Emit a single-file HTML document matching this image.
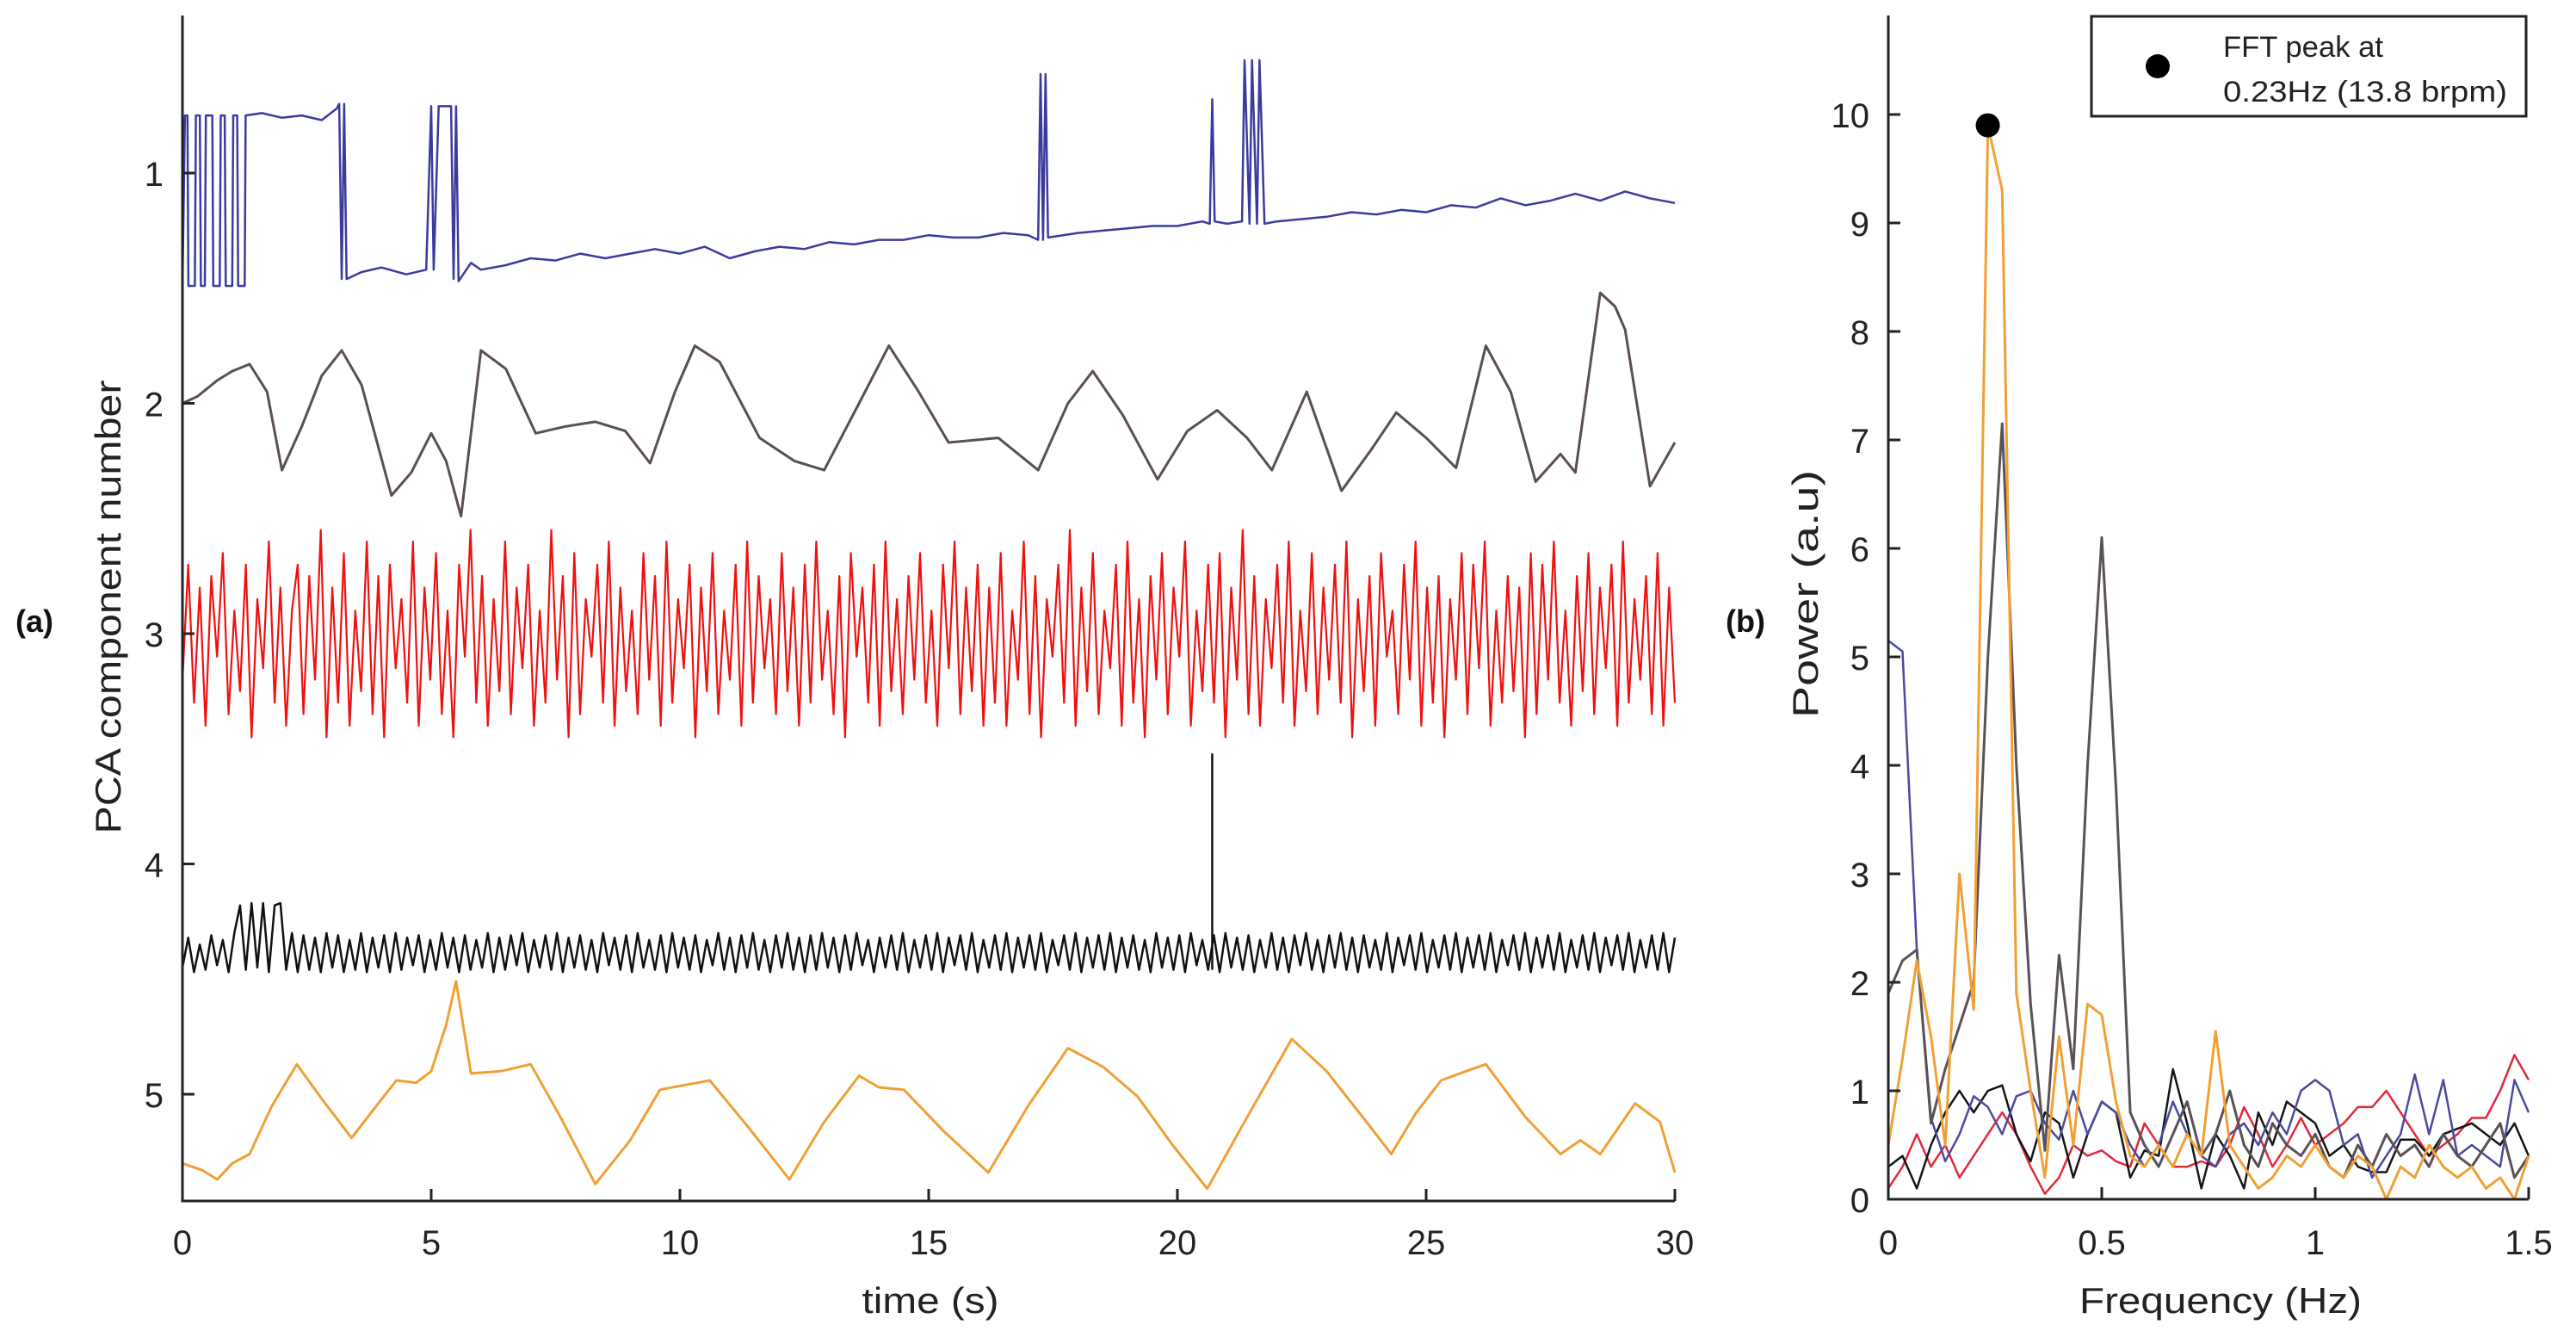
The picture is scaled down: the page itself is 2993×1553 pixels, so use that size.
<!DOCTYPE html>
<html><head><meta charset="utf-8"><style>
html,body{margin:0;padding:0;background:#fff;}
svg{display:block;font-family:"Liberation Sans",sans-serif;}
</style></head><body>
<svg id="fig" width="2993" height="1553" viewBox="0 0 2993 1553" xmlns="http://www.w3.org/2000/svg">
<g id="left"></g>
<g id="right"></g>
<text x="18" y="734" font-size="36" font-weight="bold" fill="#111">(a)</text>
<text x="2005" y="734" font-size="36" font-weight="bold" fill="#111">(b)</text>
<text transform="translate(140,705) rotate(-90)" text-anchor="middle" font-size="42" fill="#222" textLength="527" lengthAdjust="spacingAndGlyphs">PCA component number</text>
<text x="1081" y="1525" text-anchor="middle" font-size="42" fill="#222" textLength="159" lengthAdjust="spacingAndGlyphs">time (s)</text>
<text transform="translate(2112,690) rotate(-90)" text-anchor="middle" font-size="42" fill="#222" textLength="288" lengthAdjust="spacingAndGlyphs">Power (a.u)</text>
<text x="2580" y="1525" text-anchor="middle" font-size="42" fill="#222" textLength="328" lengthAdjust="spacingAndGlyphs">Frequency (Hz)</text>
<g>
<rect x="2430" y="19" width="505" height="116" fill="#fff" stroke="#222" stroke-width="3"/>
<circle cx="2507" cy="77" r="14" fill="#000"/>
<text x="2583" y="66" font-size="34" fill="#222" textLength="186" lengthAdjust="spacingAndGlyphs">FFT peak at</text>
<text x="2583" y="118" font-size="34" fill="#222" textLength="330" lengthAdjust="spacingAndGlyphs">0.23Hz (13.8 brpm)</text>
</g>
</svg>
<script>
// ---- left chart data ----
const timeTicks = [0,5,10,15,20,25,30];
const compTicks = [1,2,3,4,5];
const blueT = [0,0.05,0.1,0.12,0.25,0.27,0.35,0.37,0.45,0.47,0.6,0.62,0.75,0.77,0.85,0.87,1.0,1.02,1.1,1.12,1.25,1.27,1.6,2.0,2.4,2.8,3.1,3.15,3.2,3.25,3.3,3.6,4.0,4.5,4.9,5.0,5.05,5.15,5.4,5.45,5.5,5.55,5.8,6.0,6.5,7.0,7.5,8.0,8.5,9.0,9.5,10.0,10.5,11.0,11.5,12.0,12.5,13.0,13.5,14.0,14.5,15.0,15.5,16.0,16.5,17.0,17.2,17.25,17.3,17.35,17.4,18.0,18.5,19.0,19.5,20.0,20.5,20.65,20.7,20.75,21.0,21.3,21.35,21.45,21.5,21.6,21.65,21.75,22.0,22.5,23.0,23.5,24.0,24.5,25.0,25.5,26.0,26.5,27.0,27.5,28.0,28.5,29.0,29.5,30.0];
const blueV = [1.49,0.75,0.75,1.49,1.49,0.75,0.75,1.49,1.49,0.75,0.75,1.49,1.49,0.75,0.75,1.49,1.49,0.75,0.75,1.49,1.49,0.75,0.74,0.76,0.75,0.77,0.72,0.70,1.46,0.70,1.46,1.43,1.41,1.44,1.42,0.71,1.42,0.71,0.71,1.46,0.71,1.47,1.39,1.42,1.40,1.37,1.38,1.35,1.37,1.35,1.33,1.35,1.32,1.37,1.34,1.32,1.33,1.30,1.31,1.29,1.29,1.27,1.28,1.28,1.26,1.27,1.29,0.57,1.29,0.57,1.28,1.26,1.25,1.24,1.23,1.23,1.21,1.22,0.68,1.21,1.22,1.21,0.51,1.22,0.51,1.22,0.51,1.22,1.21,1.20,1.19,1.17,1.18,1.16,1.17,1.14,1.15,1.11,1.14,1.12,1.09,1.12,1.08,1.11,1.13];
const greyT = [0,0.3,0.7,1.0,1.35,1.7,2.0,2.4,2.8,3.2,3.6,4.2,4.6,5.0,5.3,5.6,6.0,6.5,7.1,7.7,8.3,8.9,9.4,9.9,10.3,10.8,11.6,12.3,12.9,13.6,14.2,14.8,15.4,16.4,17.2,17.8,18.3,18.9,19.6,20.2,20.8,21.4,21.9,22.6,23.3,23.9,24.4,25.0,25.6,26.2,26.7,27.2,27.7,28.0,28.5,28.8,29.0,29.5,30.0];
const greyV = [2.00,1.97,1.90,1.86,1.83,1.95,2.29,2.10,1.88,1.77,1.92,2.40,2.30,2.13,2.25,2.49,1.77,1.85,2.13,2.10,2.08,2.12,2.26,1.95,1.75,1.82,2.15,2.25,2.29,2.00,1.75,1.95,2.17,2.15,2.29,2.00,1.86,2.05,2.33,2.12,2.03,2.15,2.29,1.95,2.38,2.20,2.04,2.15,2.28,1.75,1.95,2.34,2.22,2.30,1.52,1.58,1.68,2.36,2.17];
const redV = [3.2,2.7,3.3,2.8,3.4,2.75,3.1,2.65,3.35,2.9,3.25,2.7,3.45,2.85,3.15,2.6,3.3,2.8,3.4,2.9,
2.7,3.35,2.75,3.2,2.55,3.45,2.8,3.3,2.65,3.4,2.9,3.25,2.6,3.35,2.75,3.45,2.7,3.15,2.85,3.3,
2.6,3.4,2.8,3.2,2.65,3.35,2.9,3.45,2.7,3.1,2.55,3.3,2.75,3.4,2.85,3.25,2.6,3.35,2.8,3.15,
2.7,3.4,2.9,3.3,2.55,3.2,2.75,3.45,2.65,3.35,2.85,3.1,2.7,3.3,2.6,3.4,2.8,3.25,2.9,3.35,
2.65,3.2,2.75,3.4,2.6,3.3,2.85,3.15,2.7,3.45,2.8,3.25,2.65,3.35,2.9,3.2,2.7,3.4,2.6,3.3,
2.75,3.15,2.85,3.35,2.65,3.25,2.8,3.4,2.7,3.3,2.6,3.2,2.9,3.35,2.75,3.45,2.65,3.1,2.8,3.3,
2.7,3.4,2.6,3.25,2.85,3.35,2.75,3.2,2.65,3.3,2.9,3.4,2.7,3.15,2.6,3.35,2.8,3.25,2.7,3.4,
2.8,3.3,2.65,3.4,2.9,3.2,2.6,3.35,2.75,3.45,2.85,3.1,2.7,3.3,2.55,3.4,2.8,3.25,2.65,3.35,
2.9,3.15,2.7,3.4,2.6,3.3,2.85,3.45,2.75,3.2,2.65,3.35,2.8,3.1,2.6,3.4,2.9,3.25,2.7,3.3,
2.65,3.45,2.8,3.2,2.55,3.35,2.75,3.4,2.85,3.15,2.7,3.3,2.6,3.4,2.9,3.25,2.65,3.35,2.8,3.2,
2.7,3.3,2.6,3.45,2.85,3.25,2.75,3.4,2.65,3.1,2.9,3.35,2.7,3.2,2.6,3.4,2.8,3.3,2.75,3.45,
2.85,3.2,2.65,3.35,2.7,3.15,2.6,3.4,2.9,3.3,2.75,3.25,2.8,3.45,2.65,3.35,2.7,3.2,2.6,3.3,
2.9,3.4,2.75,3.25,2.65,3.35,2.8,3.15,2.7,3.4,2.6,3.3,2.85,3.2,2.75,3.35,2.65,3.4,2.8,3.3];
const blackV = [4.45,4.32,4.47,4.35,4.46,4.31,4.44,4.33,4.47,4.30,4.18,4.46,4.17,4.45,4.17,4.47,4.18,4.17,4.46,4.30,
4.47,4.31,4.46,4.32,4.47,4.30,4.45,4.31,4.47,4.33,4.46,4.30,4.47,4.32,4.45,4.31,4.47,4.30,4.46,4.32,
4.44,4.31,4.47,4.33,4.46,4.30,4.45,4.32,4.47,4.31,4.46,4.33,4.45,4.30,4.47,4.32,4.46,4.31,4.44,4.30,
4.47,4.33,4.45,4.31,4.46,4.30,4.47,4.32,4.45,4.31,4.46,4.33,4.47,4.30,4.44,4.32,4.46,4.31,4.47,4.30,
4.45,4.33,4.46,4.31,4.47,4.30,4.45,4.32,4.46,4.31,4.47,4.33,4.44,4.30,4.46,4.32,4.47,4.31,4.45,4.30,
4.46,4.33,4.47,4.31,4.45,4.30,4.46,4.32,4.47,4.31,4.46,4.30,4.45,4.32,4.47,4.31,4.46,4.30,4.44,4.33,
4.47,4.32,4.45,4.31,4.46,4.30,4.47,4.33,4.45,4.31,4.46,4.30,4.47,4.32,4.44,4.31,4.46,4.30,4.47,4.33,
4.45,4.31,4.46,4.30,4.47,4.32,4.45,4.31,4.46,4.30,4.47,4.33,4.44,4.31,4.46,4.30,4.47,4.32,4.45,4.31,
4.46,4.30,4.47,4.32,4.45,4.31,4.46,4.33,4.47,4.30,4.45,4.32,4.46,4.31,4.47,4.30,4.44,4.33,4.46,4.31,
4.47,4.30,4.45,4.32,4.46,4.31,4.47,4.33,4.45,4.30,4.46,4.32,4.47,4.31,4.44,4.30,4.46,4.33,4.47,4.31,
4.45,4.30,4.46,4.32,4.47,4.31,4.45,4.33,4.46,4.30,4.47,4.32,4.44,4.31,4.46,4.30,4.47,4.33,4.45,4.31,
4.46,4.30,4.47,4.32,4.45,4.31,4.46,4.30,4.47,4.33,4.44,4.31,4.46,4.30,4.47,4.32,4.45,4.31,4.46,4.30,
4.47,4.33,4.45,4.31,4.46,4.30,4.47,4.32,4.44,4.31,4.46,4.30,4.47,4.33,4.45,4.31,4.46,4.30,4.47,4.32];
const blackSpikeT = [20.7];
const blackSpikeV = [3.52];
const orangeT = [0,0.4,0.7,1.0,1.35,1.8,2.3,2.8,3.4,3.9,4.3,4.7,5.0,5.3,5.5,5.8,6.4,7.0,7.6,8.3,9.0,9.6,10.1,10.6,11.4,12.2,12.9,13.6,14.0,14.5,15.3,16.2,17.0,17.8,18.5,19.2,19.9,20.6,21.4,22.3,23.0,23.8,24.3,24.8,25.3,25.8,26.2,27.0,27.7,28.1,28.5,29.2,29.7,30.0];
const orangeV = [5.30,5.33,5.37,5.30,5.26,5.05,4.87,5.02,5.19,5.05,4.94,4.95,4.90,4.70,4.51,4.91,4.90,4.87,5.10,5.39,5.20,4.98,4.96,4.94,5.15,5.37,5.12,4.92,4.97,4.98,5.16,5.34,5.05,4.80,4.88,5.01,5.22,5.41,5.10,4.76,4.90,5.12,5.26,5.08,4.94,4.90,4.87,5.10,5.26,5.20,5.26,5.04,5.12,5.34];

// ---- right chart data ----
const freqTicks = [0,0.5,1,1.5];
const freqTickLabels = ["0","0.5","1","1.5"];
const powerTicks = [0,1,2,3,4,5,6,7,8,9,10];
const freqStep = 1/30;
const specOrange = [0.5,1.3,2.2,1.5,0.5,3.0,1.75,9.9,9.3,1.9,1.0,0.2,1.5,0.5,1.8,1.7,0.9,0.4,0.3,0.5,0.3,0.6,0.4,1.55,0.5,0.3,0.1,0.2,0.4,0.3,0.5,0.3,0.2,0.4,0.3,0.0,0.3,0.2,0.5,0.3,0.2,0.3,0.1,0.2,0.0,0.4];
const specGrey = [1.9,2.2,2.3,0.7,1.2,1.6,2.0,5.0,7.15,4.0,1.8,0.45,2.25,1.2,4.0,6.1,3.8,0.8,0.5,0.3,0.6,0.9,0.4,0.6,1.0,0.5,0.3,0.7,0.5,0.4,0.6,0.3,0.2,0.5,0.3,0.6,0.4,0.5,0.3,0.6,0.4,0.3,0.5,0.7,0.2,0.4];
const specBlue = [5.15,5.05,2.3,0.75,0.35,0.6,0.95,0.85,0.6,0.95,1.0,0.7,0.55,1.0,0.6,0.9,0.8,0.5,0.3,0.5,0.9,0.6,0.4,0.3,0.6,0.7,0.5,0.8,0.6,1.0,1.1,1.0,0.5,0.6,0.2,0.4,0.6,1.15,0.6,1.1,0.4,0.5,0.4,0.3,1.1,0.8];
const specBlack = [0.3,0.4,0.1,0.5,0.8,1.0,0.8,1.0,1.05,0.6,0.35,0.8,0.7,0.2,0.6,0.9,0.8,0.2,0.45,0.4,1.2,0.7,0.1,0.6,0.4,0.1,0.8,0.5,0.9,0.8,0.7,0.4,0.5,0.3,0.25,0.25,0.55,0.55,0.4,0.6,0.65,0.7,0.6,0.5,0.7,0.4];
const specRed = [0.1,0.3,0.6,0.3,0.5,0.2,0.4,0.6,0.8,0.6,0.3,0.05,0.2,0.5,0.4,0.45,0.35,0.3,0.7,0.5,0.3,0.3,0.35,0.3,0.5,0.85,0.6,0.3,0.5,0.75,0.5,0.6,0.7,0.85,0.85,1.0,0.8,0.6,0.4,0.5,0.6,0.75,0.75,1.0,1.33,1.1];
const peakFreq = [0.233];
const peakPower = [9.9];

const NS = "http://www.w3.org/2000/svg";
function mk(tag, attrs, parent){ const e=document.createElementNS(NS,tag); for(const k in attrs) e.setAttribute(k,attrs[k]); parent.appendChild(e); return e; }

const L = {x0:212, x1:1946, yTop:18, yBot:1395};
const xT = t => L.x0 + t*(L.x1-L.x0)/30;
const yC = c => 201 + (c-1)*267.5;
const R = {x0:2194, x1:2938, yTop:18, yBot:1393};
const xF = f => R.x0 + f*(R.x1-R.x0)/1.5;
const yP = p => R.yBot - p*126;

const left = document.getElementById('left');
const right = document.getElementById('right');

function series(parent, xs, ys, color, name, width){
  const pts = xs.map((x,i)=>x.toFixed(1)+','+ys[i].toFixed(1)).join(' ');
  const pl = mk('polyline',{points:pts,fill:'none',stroke:color,'stroke-width':width,'stroke-linejoin':'round'},parent);
  
  
}
function uniformT(n){ const a=[]; for(let i=0;i<n;i++) a.push(30*i/(n-1)); return a; }

series(left, blueT.map(xT), blueV.map(yC), '#3b3b9e', 'series-component-1', 2.5);
series(left, greyT.map(xT), greyV.map(yC), '#5b4d57', 'series-component-2', 3);
series(left, uniformT(redV.length).map(xT), redV.map(yC), '#ee1111', 'series-component-3', 2.2);
series(left, uniformT(blackV.length).map(xT), blackV.map(yC), '#111111', 'series-component-4', 2.5);
blackSpikeT.forEach((t,i)=>{
  const sp = mk('line',{x1:xT(t),x2:xT(t),y1:yC(4.46),y2:yC(blackSpikeV[i]),stroke:'#111','stroke-width':2.5},left);
  
  
});
series(left, orangeT.map(xT), orangeV.map(yC), '#f0a035', 'series-component-5', 3);

let ax = mk('path',{d:`M${L.x0},${L.yTop} V${L.yBot} H${L.x1}`,fill:'none',stroke:'#222','stroke-width':3},left);


timeTicks.forEach(t=>{
  const tk = mk('line',{x1:xT(t),x2:xT(t),y1:L.yBot,y2:L.yBot-14,stroke:'#222','stroke-width':3},left);
  
  
  const tx = mk('text',{x:xT(t),y:L.yBot+62,'text-anchor':'middle','font-size':40,fill:'#222'},left);
  tx.textContent = String(t);
  
  
});
compTicks.forEach(c=>{
  const tk = mk('line',{x1:L.x0,x2:L.x0+14,y1:yC(c),y2:yC(c),stroke:'#222','stroke-width':3},left);
  
  
  const tx = mk('text',{x:L.x0-22,y:yC(c)+15,'text-anchor':'end','font-size':40,fill:'#222'},left);
  tx.textContent = String(c);
  
  
});

const fx = specOrange.map((_,i)=>xF(i*freqStep));
series(right, fx, specRed.map(yP), '#e02a3a', 'spectrum-component-3', 2.5);
series(right, fx, specBlack.map(yP), '#151515', 'spectrum-component-4', 2.5);
series(right, fx, specBlue.map(yP), '#4a4a9e', 'spectrum-component-1', 2.5);
series(right, fx, specGrey.map(yP), '#5a5058', 'spectrum-component-2', 3);
series(right, fx, specOrange.map(yP), '#f0a035', 'spectrum-component-5', 3);
peakFreq.forEach((f,i)=>{
  const d = mk('circle',{cx:xF(f),cy:yP(peakPower[i]),r:14,fill:'#000'},right);
  
  
});
ax = mk('path',{d:`M${R.x0},${R.yTop} V${R.yBot} H${R.x1}`,fill:'none',stroke:'#222','stroke-width':3},right);


freqTicks.forEach((f,i)=>{
  const tk = mk('line',{x1:xF(f),x2:xF(f),y1:R.yBot,y2:R.yBot-14,stroke:'#222','stroke-width':3},right);
  
  
  const tx = mk('text',{x:xF(f),y:R.yBot+64,'text-anchor':'middle','font-size':40,fill:'#222'},right);
  tx.textContent = freqTickLabels[i];
  
  
});
powerTicks.forEach(p=>{
  const tk = mk('line',{x1:R.x0,x2:R.x0+14,y1:yP(p),y2:yP(p),stroke:'#222','stroke-width':3},right);
  
  
  const tx = mk('text',{x:R.x0-22,y:yP(p)+15,'text-anchor':'end','font-size':40,fill:'#222'},right);
  tx.textContent = String(p);
  
  
});
</script>
</body></html>
